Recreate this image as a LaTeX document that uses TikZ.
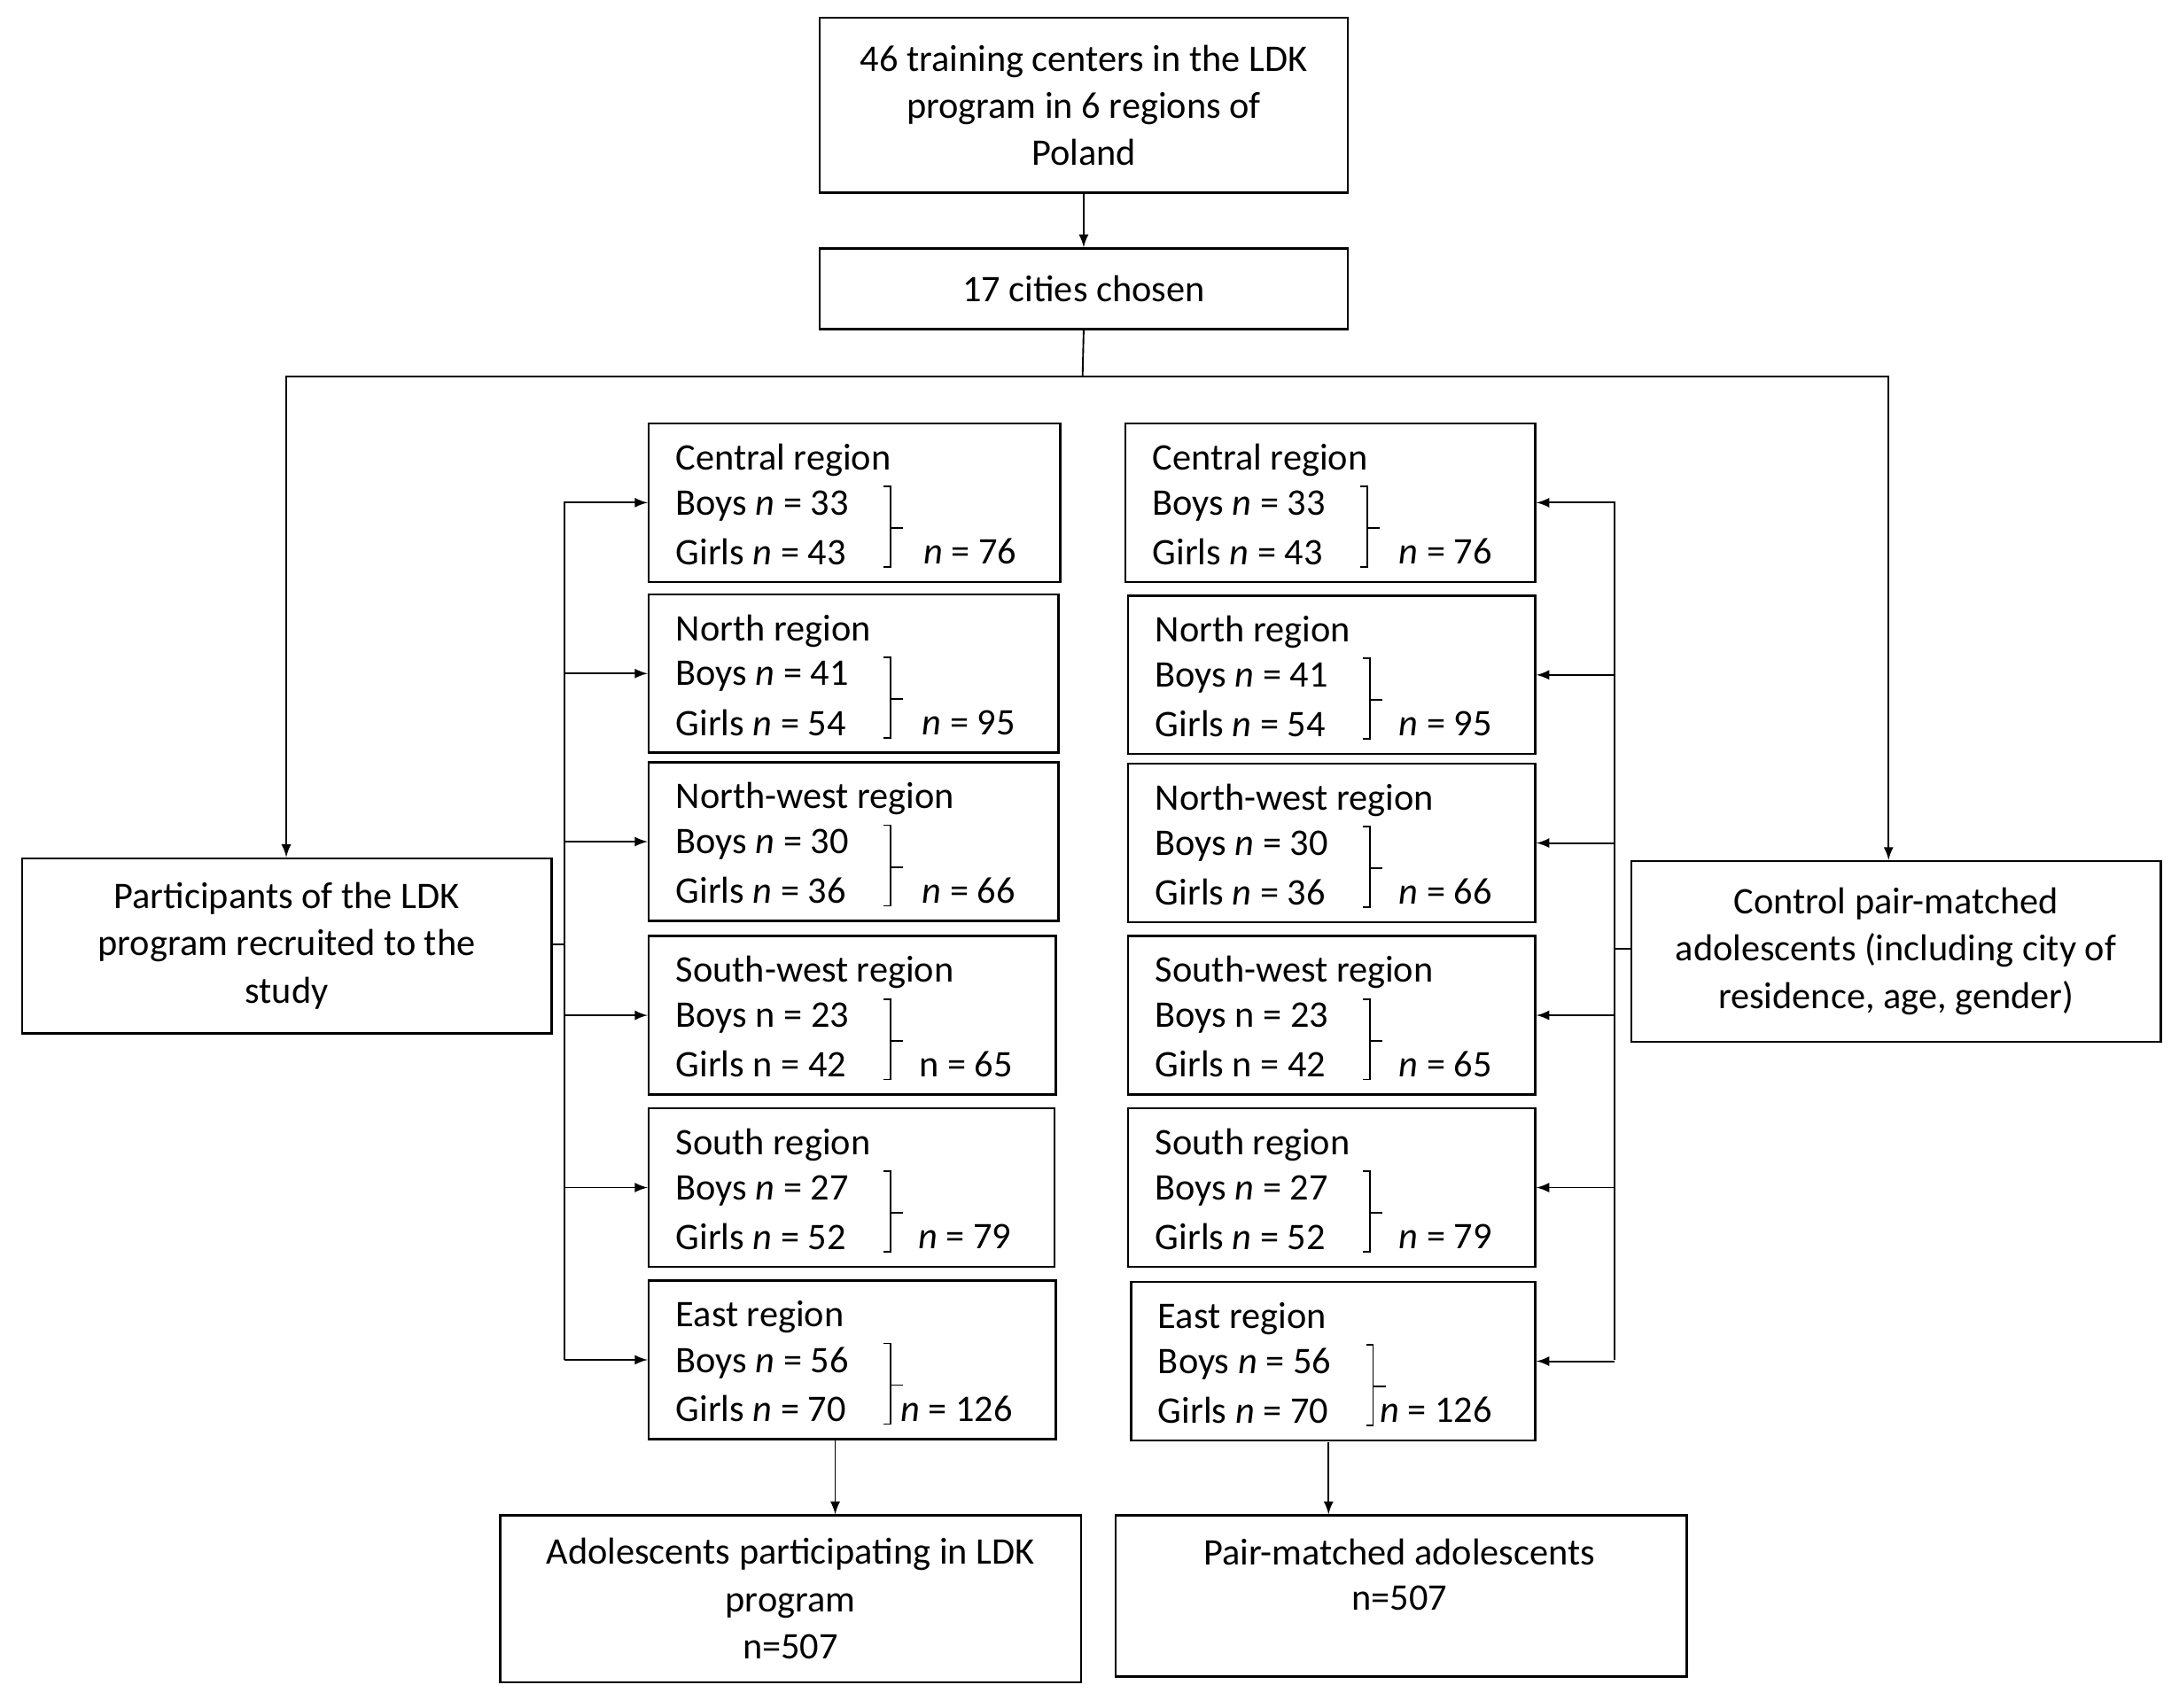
\documentclass[tikz,border=0pt]{standalone}
\usepackage{fontspec}
\setmainfont{Carlito}
\begin{document}
\begin{tikzpicture}[x=0.5pt,y=-0.5pt,
  box/.style={draw,line width=0.8pt,align=center,inner sep=0pt,font=\fontsize{13.5}{17}\selectfont},
  t/.style={anchor=west,inner sep=0pt,font=\fontsize{13.5}{17}\selectfont},
  ln/.style={line width=0.6pt},
  arr/.style={ln,-latex}]
\useasboundingbox (0,0) rectangle (1568,1229);
\newcommand\rbox[9]{%
  \node[box,minimum width=#4*0.5pt,minimum height=57pt,anchor=north west] (#1) at (#2,#3) {};
  \node[t] (#1t) at (#2+20,#3+27) {#5};
  \node[t] (#1b) at (#2+20,#3+60) {#6};
  \node[t] (#1g) at (#2+20,#3+93) {#7};
  \draw[ln] (#2+#9-5,#3+46) -- (#2+#9,#3+46) -- (#2+#9,#3+104) -- (#2+#9-5,#3+104);
  \draw[ln] (#2+#9,#3+76) -- (#2+#9+12,#3+76);
  \node[t] (#1n) at (#2+#9+#8) {};}
\node[box,minimum width=190pt,minimum height=63pt,anchor=north west] (top) at (589,12) {46 training centers in the LDK\\program in 6 regions of\\Poland};
\node[box,minimum width=190pt,minimum height=29pt,anchor=north west] (cit) at (589,178) {17 cities chosen};
\node[box,minimum width=190.5pt,minimum height=63pt,anchor=north west] (lp) at (15,617) {Participants of the LDK\\program recruited to the\\study};
\node[box,minimum width=190.5pt,minimum height=65pt,anchor=north west] (rp) at (1173,619) {Control pair-matched\\adolescents (including city of\\residence, age, gender)};
\node[box,minimum width=209pt,minimum height=60pt,anchor=north west] (lb) at (359,1090) {Adolescents participating in LDK\\program\\n=507};
\node[box,minimum width=205.5pt,minimum height=58pt,anchor=north west] (rb) at (802,1090) {};
\node[t,anchor=center] at (1007,1117) {Pair-matched adolescents};
\node[t,anchor=center] at (1007,1150) {n=507};
\draw[arr] (top) -- (cit);
\coordinate (j) at (779,271);
\draw[ln] (cit.south) -- (j);
\draw[arr] (j) -| (lp.north -| 206,0);
\draw[arr] (j) -| (rp.north -| 1359,0);
% left column
\def\tot#1#2{\node[t] at (#1) {#2};}
\newcommand\reg[8]{% name x y w title boys girls total bx
  \node[box,minimum width=#4*0.5pt,minimum height=57pt,anchor=north west] (#1) at (#2,#3) {};
  \node[t] at (#2+20,#3+27) {#5};
  \node[t] at (#2+20,#3+60) {#6};
  \node[t] at (#2+20,#3+93) {#7};
  \draw[ln] (#2+170,#3+46) -- (#2+175,#3+46) -- (#2+175,#3+104) -- (#2+170,#3+104);
  \draw[ln] (#2+175,#3+76) -- (#2+184,#3+76);
  \node[t,anchor=east] at (#2+#4-30,#3+93) {#8};}
\reg{l1}{466}{304}{296}{Central region}{Boys \textit{n} = 33}{Girls \textit{n} = 43}{\textit{n} = 76}
\reg{l2}{466}{427}{295}{North region}{Boys \textit{n} = 41}{Girls \textit{n} = 54}{\textit{n} = 95}
\reg{l3}{466}{548}{295}{North-west region}{Boys \textit{n} = 30}{Girls \textit{n} = 36}{\textit{n} = 66}
\reg{l4}{466}{673}{293}{South-west region}{Boys n = 23}{Girls n = 42}{n = 65}
\reg{l5}{466}{797}{292}{South region}{Boys \textit{n} = 27}{Girls \textit{n} = 52}{\textit{n} = 79}
\reg{l6}{466}{921}{293}{East region}{Boys \textit{n} = 56}{Girls \textit{n} = 70}{\textit{n} = 126}
\reg{r1}{809}{304}{295}{Central region}{Boys \textit{n} = 33}{Girls \textit{n} = 43}{\textit{n} = 76}
\reg{r2}{811}{428}{293}{North region}{Boys \textit{n} = 41}{Girls \textit{n} = 54}{\textit{n} = 95}
\reg{r3}{811}{549}{293}{North-west region}{Boys \textit{n} = 30}{Girls \textit{n} = 36}{\textit{n} = 66}
\reg{r4}{811}{673}{293}{South-west region}{Boys n = 23}{Girls n = 42}{\textit{n} = 65}
\reg{r5}{811}{797}{293}{South region}{Boys \textit{n} = 27}{Girls \textit{n} = 52}{\textit{n} = 79}
\reg{r6}{813}{922}{291}{East region}{Boys \textit{n} = 56}{Girls \textit{n} = 70}{\textit{n} = 126}
\coordinate (lbus) at (406,680);
\coordinate (rbus) at (1162,683);
\draw[ln] (lp.east |- lbus) -- (lbus);
\draw[ln] (406,361) -- (406,979);
\draw[ln] (rp.west |- rbus) -- (rbus);
\draw[ln] (1162,361) -- (1162,979);
\foreach \i in {1,...,6}{
  \draw[arr] (406,0 |- l\i.west) -- (l\i.west);
  \draw[arr] (1162,0 |- r\i.east) -- (r\i.east);}
\draw[arr] (601,1037) -- (601,1090);
\draw[arr] (956,1038) -- (956,1090);
\end{tikzpicture}
\end{document}
